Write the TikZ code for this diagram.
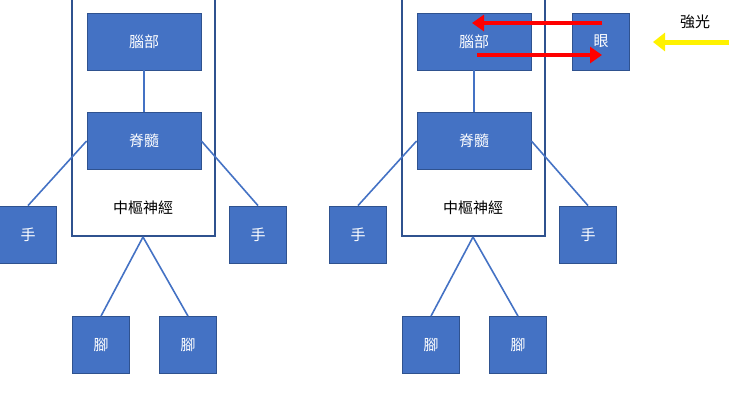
\documentclass[tikz,border=0pt]{standalone}
\usepackage{fontspec}
\newfontfamily\cjk{Noto Sans CJK TC}
\usetikzlibrary{arrows.meta}
\definecolor{bfill}{HTML}{4472C4}
\definecolor{bline}{HTML}{2F528F}
\tikzset{
 blk/.style={draw=bline,fill=bfill,line width=0.8pt,minimum width=57pt,minimum height=57pt,inner sep=0pt,text=white,font=\cjk\fontsize{15}{15}\selectfont},
 wide/.style={blk,minimum width=114pt},
 cns/.style={draw=bline,line width=2pt,minimum width=143pt,minimum height=245pt,inner sep=0pt},
 conn/.style={draw=bfill,line width=1.6pt},
 lab/.style={font=\cjk\fontsize{15}{15}\selectfont,text=black},
 redarr/.style={draw=red,line width=4pt,-{Triangle[length=12pt,width=16pt]}},
 yelarr/.style={draw=yellow,line width=5pt,-{Triangle[length=12pt,width=18pt]}}
}
\begin{document}
\begin{tikzpicture}[x=1pt,y=-1pt]
\useasboundingbox (0,0) rectangle (732,400);
\foreach \o/\p in {0/L,330/R}{
 \node[cns] (cns\p) at (143+\o,113.5) {};
 \node[wide] (brain\p) at (144+\o,41.5) {腦部};
 \node[wide] (spine\p) at (144+\o,141) {脊髓};
 \node[lab] (txt\p) at (143+\o,208) {中樞神經};
 \node[blk] (hl\p) at (28+\o,234.5) {手};
 \node[blk] (hr\p) at (258+\o,234.5) {手};
 \node[blk] (fl\p) at (101+\o,345) {腳};
 \node[blk] (fr\p) at (188+\o,345) {腳};
 \draw[conn] (brain\p.south) -- (spine\p.north);
 \draw[conn] (spine\p.west) -- (hl\p.north);
 \draw[conn] (spine\p.east) -- (hr\p.north);
 \draw[conn] (cns\p.south) -- (fl\p.north);
 \draw[conn] (cns\p.south) -- (fr\p.north);
}
\node[blk] (eye) at (601,41.5) {眼};
\node[lab] (light) at (695,22) {強光};
\coordinate (ys) at (729,42);
\coordinate (ye) at (653,42);
\draw[yelarr] (ys) -- (ye);
\coordinate (r1s) at (602,23);
\coordinate (r1e) at (472,23);
\coordinate (r2s) at (477,55);
\coordinate (r2e) at (602,55);
\draw[redarr] (r1s) -- (r1e);
\draw[redarr] (r2s) -- (r2e);
\end{tikzpicture}
\end{document}
